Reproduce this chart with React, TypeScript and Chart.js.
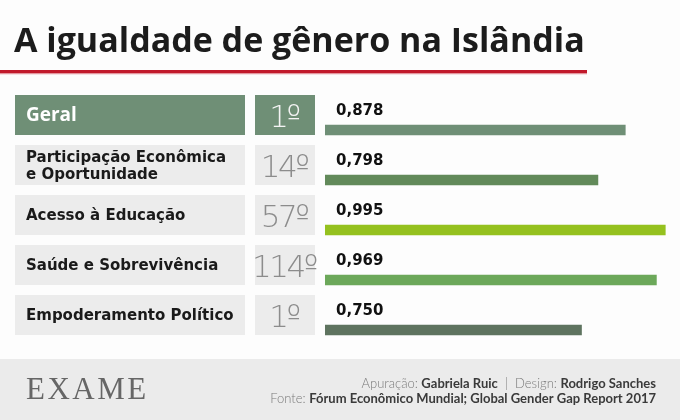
import React, { useEffect, useRef } from "react";
import { Chart, registerables } from "chart.js";

Chart.register(...registerables);

const title = "A igualdade de gênero na Islândia";
const categories: string[][] = [
  ["Geral"],
  ["Participação Econômica", "e Oportunidade"],
  ["Acesso à Educação"],
  ["Saúde e Sobrevivência"],
  ["Empoderamento Político"],
];
const ranks = ["1º", "14º", "57º", "114º", "1º"];
const values = [0.878, 0.798, 0.995, 0.969, 0.75];
const valueLabels = ["0,878", "0,798", "0,995", "0,969", "0,750"];
const barColors = ["#6f8f76", "#628a5a", "#95c11f", "#6ca85a", "#5e735f"];
const creditLine1: [string, boolean][] = [
  ["Apuração: ", false],
  ["Gabriela Ruic", true],
  ["  |  ", false],
  ["Design: ", false],
  ["Rodrigo Sanches", true],
];
const creditLine2: [string, boolean][] = [
  ["Fonte: ", false],
  ["Fórum Econômico Mundial; Global Gender Gap Report 2017", true],
];
const brand = "EXAME";

const W = 680;
const H = 420;

function drawRich(ctx: CanvasRenderingContext2D, parts: [string, boolean][], right: number, y: number) {
  const fontFor = (b: boolean) => (b ? "bold 13px Lato" : "300 13px Lato");
  let total = 0;
  parts.forEach(([t, b]) => {
    ctx.font = fontFor(b);
    total += ctx.measureText(t).width;
  });
  let x = right - total;
  ctx.textAlign = "left";
  parts.forEach(([t, b]) => {
    ctx.font = fontFor(b);
    ctx.fillStyle = b ? "#3a3a3a" : "#7a7a7a";
    ctx.fillText(t, x, y);
    x += ctx.measureText(t).width;
  });
}

const infographic = {
  id: "infographic",
  beforeDraw(chart: any) {
    const ctx: CanvasRenderingContext2D = chart.ctx;
    const yScale = chart.scales.y;
    ctx.save();
    ctx.fillStyle = "#fdfdfd";
    ctx.fillRect(0, 0, W, H);

    // title
    ctx.fillStyle = "#1c1c1c";
    ctx.font = "bold 34px 'Open Sans'";
    ctx.textBaseline = "alphabetic";
    ctx.textAlign = "left";
    ctx.fillText(title, 14, 52);
    ctx.fillStyle = "#c1192b";
    ctx.fillRect(0, 70, 587, 3.5);
    ctx.fillStyle = "#e8a0a8";
    ctx.fillRect(0, 73.5, 587, 0.8);

    // rows
    categories.forEach((lines, i) => {
      const cy = yScale.getPixelForValue(i);
      const top = cy - 35;
      const boxColor = i === 0 ? "#6f8f76" : "#ececec";
      ctx.fillStyle = boxColor;
      ctx.fillRect(15, top, 230, 40);
      ctx.fillRect(255, top, 60, 40);
      const mid = top + 20;
      if (i === 0) {
        ctx.fillStyle = "#ffffff";
        ctx.font = "bold 19px 'Open Sans'";
        ctx.fillText(lines[0], 26, mid + 6);
      } else {
        ctx.fillStyle = "#1a1a1a";
        ctx.font = "bold 15px 'DejaVu Sans'";
        if (lines.length === 1) {
          ctx.fillText(lines[0], 26, mid + 5.4);
        } else {
          ctx.fillText(lines[0], 26, mid - 3.3);
          ctx.fillText(lines[1], 26, mid + 14.3);
        }
      }
      ctx.fillStyle = i === 0 ? "#f4f4f4" : "#8c8c8c";
      ctx.font = "200 31px 'DejaVu Sans'";
      (ctx as any).letterSpacing = "-2.5px";
      ctx.textAlign = "center";
      ctx.fillText(ranks[i], 284, mid + 11.5);
      (ctx as any).letterSpacing = "0px";
      ctx.textAlign = "left";
    });

    // footer
    ctx.fillStyle = "#ebebeb";
    ctx.fillRect(0, 359, W, H - 359);
    ctx.fillStyle = "#666666";
    ctx.font = "31px 'Liberation Serif'";
    (ctx as any).letterSpacing = "2.5px";
    ctx.fillText(brand, 26, 398.5);
    (ctx as any).letterSpacing = "0px";
    drawRich(ctx, creditLine1, 656, 388.3);
    drawRich(ctx, creditLine2, 656, 402.7);
    ctx.restore();
  },
  afterDatasetsDraw(chart: any) {
    const ctx: CanvasRenderingContext2D = chart.ctx;
    const yScale = chart.scales.y;
    const xScale = chart.scales.x;
    ctx.save();
    ctx.fillStyle = "#111111";
    ctx.font = "bold 15px 'DejaVu Sans'";
    ctx.textAlign = "left";
    ctx.textBaseline = "alphabetic";
    valueLabels.forEach((t, i) => {
      const cy = yScale.getPixelForValue(i);
      ctx.fillText(t, xScale.getPixelForValue(0) + 11, cy - 15);
    });
    ctx.restore();
  },
};

export default function App() {
  const ref = useRef<HTMLCanvasElement>(null);
  useEffect(() => {
    if (!ref.current) return;
    const chart = new Chart(ref.current, {
      type: "bar",
      data: {
        labels: categories.map((l) => l.join(" ")),
        datasets: [
          {
            data: values,
            backgroundColor: barColors,
            borderWidth: 0,
            barThickness: 10,
          },
        ],
      },
      options: {
        indexAxis: "y",
        responsive: false,
        animation: false,
        layout: { padding: { left: 325, right: 13, top: 105, bottom: 65 } },
        scales: {
          x: { min: 0, max: 1, display: false },
          y: { display: false },
        },
        plugins: {
          legend: { display: false },
          tooltip: { enabled: false },
          title: { display: false },
        },
      },
      plugins: [infographic],
    });
    return () => chart.destroy();
  }, []);
  return (
    <div style={{ position: "absolute", left: 0, top: 0, width: W, height: H }}>
      <canvas ref={ref} width={W} height={H} style={{ display: "block", width: W, height: H }} />
    </div>
  );
}
